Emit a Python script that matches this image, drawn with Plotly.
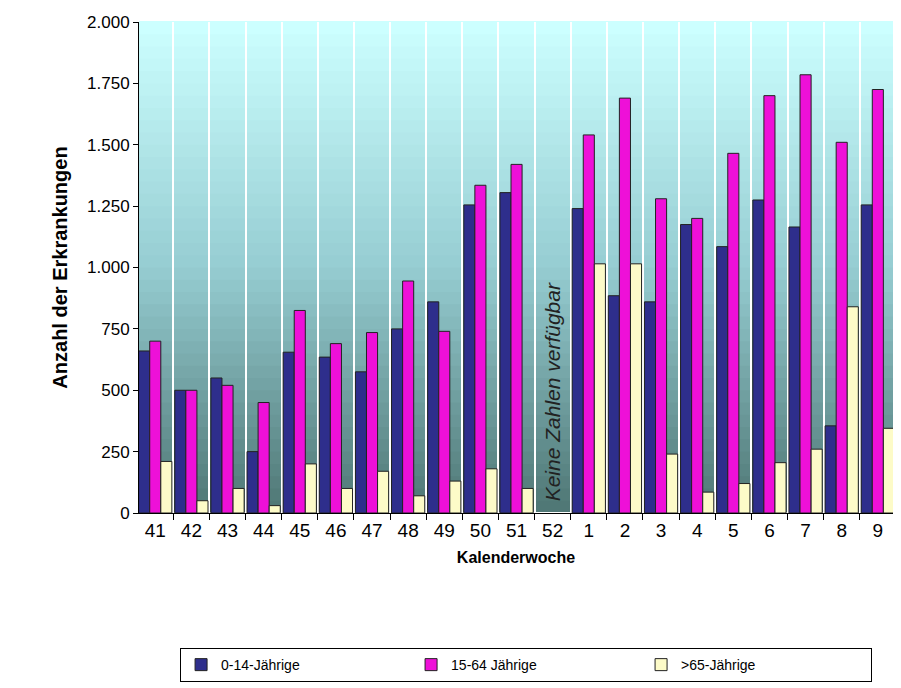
import plotly.graph_objects as go

weeks = ["41", "42", "43", "44", "45", "46", "47", "48", "49", "50", "51", "52",
         "1", "2", "3", "4", "5", "6", "7", "8", "9"]
kids = [660, 500, 550, 250, 655, 635, 575, 750, 860, 1255, 1305, None,
        1240, 885, 860, 1175, 1085, 1275, 1165, 355, 1255]
adults = [700, 500, 520, 450, 825, 690, 735, 945, 740, 1335, 1420, None,
          1540, 1690, 1280, 1200, 1465, 1700, 1785, 1510, 1725]
seniors = [210, 50, 100, 30, 200, 100, 170, 70, 130, 180, 100, None,
           1015, 1015, 240, 85, 120, 205, 260, 840, 345]

fig = go.Figure()
line = dict(color="#222222", width=1)
fig.add_trace(go.Bar(x=weeks, y=kids, name="0-14-Jährige",
                     marker=dict(color="#2e2e8c", line=line)))
fig.add_trace(go.Bar(x=weeks, y=adults, name="15-64 Jährige",
                     marker=dict(color="#ee10d8", line=line)))
fig.add_trace(go.Bar(x=weeks, y=seniors, name=">65-Jährige",
                     marker=dict(color="#fdfbc8", line=line)))

# vertical gradient background
top = (204, 255, 255)
mid = (150, 205, 210)
bot = (80, 120, 118)
n = 40
shapes = []
for i in range(n):
    t = i / (n - 1)
    if t < 0.5:
        a, b, f = bot, mid, t / 0.5
    else:
        a, b, f = mid, top, (t - 0.5) / 0.5
    c = tuple(int(a[k] + (b[k] - a[k]) * f) for k in range(3))
    shapes.append(dict(type="rect", xref="x domain", yref="y domain",
                       x0=0, x1=1, y0=i / n, y1=(i + 1) / n + 0.002,
                       fillcolor="rgb(%d,%d,%d)" % c, line=dict(width=0),
                       layer="below"))

fig.update_layout(
    width=901, height=688,
    margin=dict(l=131, r=16, t=14, b=183),
    paper_bgcolor="white", plot_bgcolor="rgba(0,0,0,0)",
    barmode="group", bargap=0.08, bargroupgap=0,
    separators=",.",
    font=dict(family="Liberation Sans, Arial", color="black"),
    shapes=shapes,
    xaxis=dict(type="category", range=[-0.45, 20.42], tickson="boundaries",
               automargin=False,
               showgrid=True, gridcolor="white", gridwidth=1.5, ticks="outside",
               ticklen=6, tickcolor="black", showline=True, linecolor="black",
               tickfont=dict(size=19),
               title=dict(text="<b>Kalenderwoche</b>", font=dict(size=16),
                          standoff=12)),
    yaxis=dict(range=[0, 2000], dtick=250, tickformat=",d", showgrid=False,
               automargin=False,
               ticks="outside", ticklen=5, tickcolor="black", showline=True,
               linecolor="black", tickfont=dict(size=17),
               title=dict(text="<b>Anzahl der Erkrankungen</b>",
                          font=dict(size=20), standoff=14)),
    legend=dict(orientation="h", xref="container", yref="container",
                x=0.575, xanchor="center", y=0.045, yanchor="middle",
                bordercolor="black", borderwidth=1,
                bgcolor="white", entrywidth=185, font=dict(size=14)),
    annotations=[dict(x=11, y=40, xref="x", yref="y", yanchor="bottom",
                      text="<i>Keine Zahlen verfügbar</i>", textangle=-90,
                      showarrow=False, font=dict(size=21, color="#222222"))],
)

fig.write_html("out.html")
